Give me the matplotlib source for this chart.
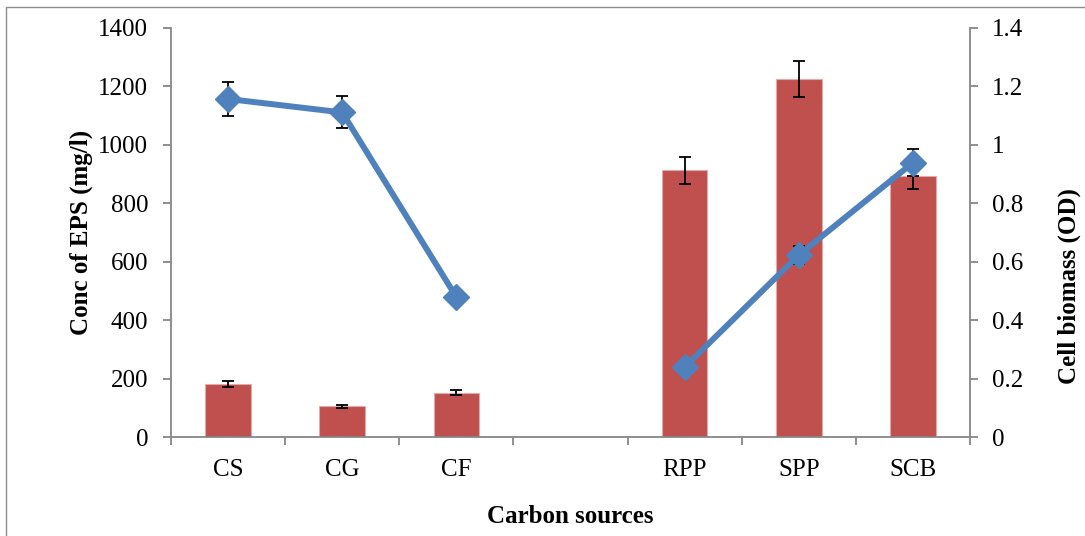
import numpy as np
import matplotlib.pyplot as plt
from matplotlib.patches import Rectangle

plt.rcParams['font.family'] = ['Liberation Serif', 'DejaVu Serif']

sources = ['CS', 'CG', 'CF', '', 'RPP', 'SPP', 'SCB']
eps = [182, 105, 152, np.nan, 913, 1225, 893]
eps_err = [10, 6, 8, np.nan, 46, 62, 43]
biomass = [1.157, 1.111, 0.479, np.nan, 0.239, 0.623, 0.939]
biomass_err = [0.058, 0.055, 0.024, np.nan, 0.005, 0.031, 0.047]

bar_col = '#C0504D'
line_col = '#4F81BD'
axis_col = '#868686'
fs = 18

fig = plt.figure(figsize=(10.85, 5.36), dpi=100)
fig.patches.append(Rectangle((6/1085, -0.01), 1.1, 1 - 7/536 + 0.01,
                             transform=fig.transFigure, fill=False,
                             edgecolor='#8C8C8C', lw=1.0))
ax = fig.add_axes([171/1085, 1 - 437/536, 799/1085, 409/536])
x = np.arange(len(sources))

ax.bar(x, eps, width=0.4, color=bar_col, edgecolor='#E3AAA9', lw=0.8, zorder=2)
ax.errorbar(x, eps, yerr=eps_err, fmt='none', ecolor='black', elinewidth=1.3,
            capsize=4.3, capthick=1.3, zorder=3)
ax.set_xlim(-0.5, len(sources) - 0.5)
ax.set_ylim(0, 1400)
ax.set_yticks(np.arange(0, 1401, 200))
ax.set_xticks(x)
ax.set_xticklabels(sources)
ax.set_xticks(np.arange(-0.5, len(sources)), minor=True)
ax.tick_params(axis='x', which='major', length=0, pad=16)
ax.tick_params(axis='x', which='minor', length=5.5, color=axis_col, width=1.3)
ax.tick_params(axis='y', length=5.5, color=axis_col, width=1.3, pad=11)
ax.tick_params(labelsize=fs)
for s in ['top', 'right']:
    ax.spines[s].set_visible(False)
for s in ['left', 'bottom']:
    ax.spines[s].set_color(axis_col)
    ax.spines[s].set_linewidth(1.3)
ax.set_ylabel('Conc of EPS (mg/l)', fontsize=fs, fontweight='bold', labelpad=4)
ax.set_xlabel('Carbon sources', fontsize=fs, fontweight='bold', labelpad=17)

ax2 = ax.twinx()
ax2.errorbar(x, biomass, yerr=biomass_err, fmt='none', ecolor='black',
             elinewidth=1.3, capsize=4.3, capthick=1.3, zorder=3)
ax2.plot(x, biomass, color=line_col, lw=4.3, marker='D', markersize=13,
         zorder=4)
ax2.set_ylim(0, 1.4)
ax2.set_yticks(np.arange(0, 1.41, 0.2))
ax2.set_yticklabels(['0', '0.2', '0.4', '0.6', '0.8', '1', '1.2', '1.4'])
ax2.tick_params(axis='y', length=5.5, color=axis_col, width=1.3, pad=10,
                labelsize=fs)
for s in ['top', 'left', 'bottom']:
    ax2.spines[s].set_visible(False)
ax2.spines['right'].set_color(axis_col)
ax2.spines['right'].set_linewidth(1.3)
ax2.set_ylabel('Cell biomass (OD)', fontsize=fs, fontweight='bold',
               labelpad=25, y=0.369)

fig.savefig('out.png', dpi=100)
